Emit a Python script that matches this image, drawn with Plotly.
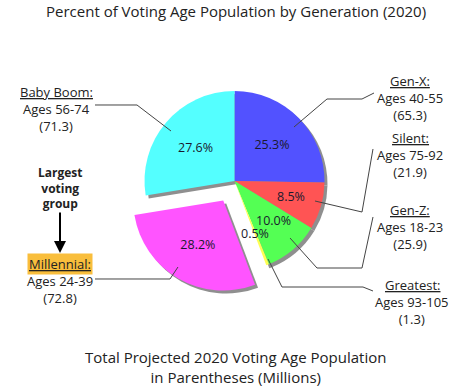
import plotly.graph_objects as go

# ---------------- data ----------------
generations = ["Gen-X", "Silent", "Gen-Z", "Greatest", "Millennial", "Baby Boom"]
age_ranges = ["Ages 40-55", "Ages 75-92", "Ages 18-23", "Ages 93-105", "Ages 24-39", "Ages 56-74"]
population_millions = [65.3, 21.9, 25.9, 1.3, 72.8, 71.3]
slice_colors = ["#5252FF", "#FF5454", "#54FF54", "#FFFF52", "#FF54FF", "#54FFFF"]
pulls = [0, 0, 0, 0, 0.25, 0]

W, H = 473, 389
FONT = "Open Sans"


def px(x):
    return x / W


def py(y):
    return 1 - y / H


# pie geometry (pixels)
cx, cy, r = 234.5, 181, 90
half = r * (1 + max(pulls))
dom_x = [px(cx - half), px(cx + half)]
dom_y = [py(cy + half), py(cy - half)]
sh = 3  # shadow offset
dom_x_sh = [px(cx - half + sh), px(cx + half + sh)]
dom_y_sh = [py(cy + half + sh), py(cy - half + sh)]

fig = go.Figure()

# shadow
fig.add_trace(go.Pie(
    values=population_millions, labels=generations, pull=pulls,
    sort=False, direction="clockwise", rotation=0,
    marker=dict(colors=["#8f8f8f"] * len(generations), line=dict(width=0)),
    textinfo="none", hoverinfo="skip", showlegend=False,
    domain=dict(x=dom_x_sh, y=dom_y_sh),
))

# small slices get their percentage as a placed annotation instead
placed_pct = {"Silent": (291, 196), "Gen-Z": (273, 221), "Greatest": (255, 233)}
textpos = ["none" if g in placed_pct else "inside" for g in generations]
fig.add_trace(go.Pie(
    values=population_millions, labels=generations, pull=pulls,
    sort=False, direction="clockwise", rotation=0,
    marker=dict(colors=slice_colors, line=dict(width=0)),
    texttemplate="%{percent:.1%}", textposition=textpos,
    insidetextorientation="horizontal",
    textfont=dict(family=FONT, size=12.5, color="#1a1a2e"),
    showlegend=False,
    domain=dict(x=dom_x, y=dom_y),
))

total = sum(population_millions)

annotations = []


def add_text(x, y, text, size=13, color="#222222", bold=False, bg=None):
    t = f"<b>{text}</b>" if bold else text
    a = dict(x=px(x), y=py(y), xref="paper", yref="paper", text=t,
             showarrow=False, xanchor="center", yanchor="middle",
             font=dict(family=FONT, size=size, color=color))
    if bg:
        a["bgcolor"] = bg
        a["borderpad"] = 1
    annotations.append(a)


# title and footer
add_text(236, 11, "Percent of Voting Age Population by Generation (2020)", size=15)
add_text(235, 367, "Total Projected 2020 Voting Age Population<br>in Parentheses (Millions)", size=15)

# label positions: (center x, header y)
label_pos = {
    "Gen-X": (410, 81),
    "Silent": (410, 138),
    "Gen-Z": (410, 210),
    "Greatest": (412, 285),
    "Baby Boom": (56, 92),
    "Millennial": (60, 264),
}
for g, a, p in zip(generations, age_ranges, population_millions):
    x, y = label_pos[g]
    if g == "Millennial":
        add_text(x, y, f"<u>{g}:</u>", bg="#F9BE3C")
    else:
        add_text(x, y, f"<u>{g}:</u>")
    add_text(x, y + 25.5, f"{a}<br>({p})")

# percentages of the small slices
for g, p in zip(generations, population_millions):
    if g in placed_pct:
        x, y = placed_pct[g]
        add_text(x, y, f"{p / total * 100:.1f}%", size=12.5, color="#1a1a2e")

# callout
add_text(60, 188, "Largest<br>voting<br>group", bold=True, size=12)
annotations.append(dict(
    x=px(60), y=py(253), ax=0, ay=-42, xref="paper", yref="paper",
    axref="pixel", ayref="pixel", text="", showarrow=True,
    arrowhead=2, arrowsize=1.2, arrowwidth=2, arrowcolor="#000000"))

# leader lines (pixel paths)
leaders = [
    [(95, 105), (137, 105), (171, 131)],
    [(294, 127), (327, 99), (362, 99), (374, 93)],
    [(315, 201), (362, 212), (373, 149)],
    [(290, 238), (317, 268), (362, 268), (373, 217)],
    [(268, 259), (282, 287), (363, 287), (373, 291)],
    [(178, 267), (170, 279), (95, 279)],
]
shapes = []
for pts in leaders:
    path = "M " + " L ".join(f"{px(x):.5f},{py(y):.5f}" for x, y in pts)
    shapes.append(dict(type="path", path=path, xref="paper", yref="paper",
                       line=dict(color="#444444", width=1)))

fig.update_layout(
    width=W, height=H,
    margin=dict(l=0, r=0, t=0, b=0),
    paper_bgcolor="white", plot_bgcolor="white",
    annotations=annotations, shapes=shapes,
    font=dict(family=FONT),
)

fig.write_html(
    "out.html",
    config={"displayModeBar": False},
    post_script="document.body.style.margin='0';document.body.style.overflow='hidden';",
)
